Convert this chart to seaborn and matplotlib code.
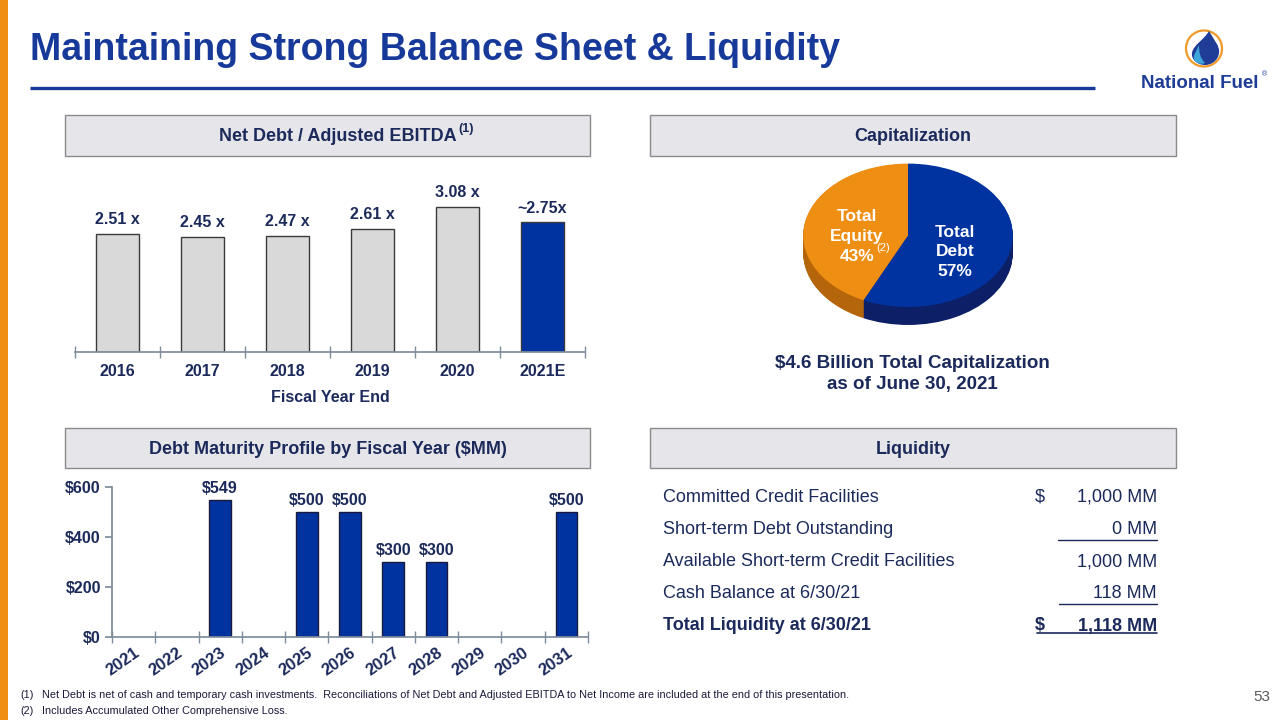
import numpy as np
import pandas as pd
import seaborn as sns
import matplotlib.pyplot as plt
from matplotlib.patches import Rectangle, Circle, PathPatch
from matplotlib.path import Path

# ---- data ----
ebitda_years = ["2016", "2017", "2018", "2019", "2020", "2021E"]
ebitda_ratio = [2.51, 2.45, 2.47, 2.61, 3.08, 2.75]
ebitda_labels = ["2.51 x", "2.45 x", "2.47 x", "2.61 x", "3.08 x", "~2.75x"]

maturity_years = ["2021", "2022", "2023", "2024", "2025", "2026", "2027", "2028", "2029", "2030", "2031"]
maturity_mm = [0, 0, 549, 0, 500, 500, 300, 300, 0, 0, 500]

cap_parts = ["Total Debt", "Total Equity"]
cap_pct = [57, 43]

liq_items = ["Committed Credit Facilities", "Short-term Debt Outstanding",
             "Available Short-term Credit Facilities", "Cash Balance at 6/30/21",
             "Total Liquidity at 6/30/21"]
liq_values = ["1,000 MM", "0 MM", "1,000 MM", "118 MM", "1,118 MM"]

footnotes = ["Net Debt is net of cash and temporary cash investments.  Reconciliations of Net Debt and Adjusted EBITDA to Net Income are included at the end of this presentation.",
             "Includes Accumulated Other Comprehensive Loss."]

# ---- style ----
sns.set_theme(style="white")
plt.rcParams["font.family"] = ["Liberation Sans", "DejaVu Sans"]

NAVY = "#1B2A5B"
BLUE = "#0033A0"
TITLE_BLUE = "#17399A"
ORANGE = "#EE8E12"
GREY_BAR = "#D9D9D9"
AXIS = "#7F8C9C"

W, H = 1280, 720
fig = plt.figure(figsize=(12.8, 7.2), dpi=100)


def px_axes(x0, y0, x1, y1):
    return fig.add_axes([x0 / W, 1 - y1 / H, (x1 - x0) / W, (y1 - y0) / H])


# overlay for decorations (pixel coords, y down)
ov = fig.add_axes([0, 0, 1, 1])
ov.set_xlim(0, W)
ov.set_ylim(H, 0)
ov.axis("off")

ov.add_patch(Rectangle((0, 0), 8, H, color=ORANGE, lw=0))
ov.text(30, 50, "Maintaining Strong Balance Sheet & Liquidity", fontsize=27, fontweight="bold",
        color=TITLE_BLUE, va="center", ha="left")
ov.plot([30, 1095], [88, 88], color=TITLE_BLUE, lw=2.4, solid_capstyle="butt")

# logo
ov.add_patch(Circle((1204, 48.5), 18, fill=False, ec="#EE9A2A", lw=1.6))
drop = Path([(1209, 31), (1214, 40), (1220, 46), (1219, 53), (1218, 61), (1211, 65), (1205, 65),
             (1197, 65), (1191, 59), (1192, 53), (1193, 45), (1204, 40), (1209, 31), (1209, 31)],
            [Path.MOVETO] + [Path.CURVE4] * 12 + [Path.CLOSEPOLY])
ov.add_patch(PathPatch(drop, fc="#1F3C96", ec="none"))
inner = Path([(1199, 45), (1196, 52), (1193, 55), (1194, 59), (1195, 63), (1201, 65), (1205, 63),
              (1200, 58), (1199, 52), (1199, 45), (1199, 45)],
             [Path.MOVETO] + [Path.CURVE4] * 9 + [Path.CLOSEPOLY])
ov.add_patch(PathPatch(inner, fc="#3FA6DC", ec="none"))
ov.text(1200, 83, "National Fuel", fontsize=13.5, fontweight="bold", color="#1F3C96",
        ha="center", va="center")
ov.text(1264, 75, "®", fontsize=5, color="#1F3C96", ha="center", va="center")

# header boxes
headers = [((65, 115, 590, 156), "Net Debt / Adjusted EBITDA"),
           ((650, 115, 1176, 156), "Capitalization"),
           ((65, 428, 590, 468), "Debt Maturity Profile by Fiscal Year ($MM)"),
           ((650, 428, 1176, 468), "Liquidity")]
for (x0, y0, x1, y1), txt in headers:
    ov.add_patch(Rectangle((x0, y0), x1 - x0, y1 - y0, fc="#E6E6EA", ec="#8A8A8A", lw=1))
    if txt.startswith("Net Debt"):
        ov.text(457, (y0 + y1) / 2 + 1, txt, fontsize=13, fontweight="bold", color=NAVY,
                ha="right", va="center")
        ov.text(458, 129, "(1)", fontsize=9, fontweight="bold", color=NAVY, ha="left", va="center")
    else:
        ov.text((x0 + x1) / 2, (y0 + y1) / 2 + 1, txt, fontsize=13, fontweight="bold", color=NAVY,
                ha="center", va="center")

# ---- chart 1: net debt / adjusted EBITDA ----
ax1 = px_axes(75, 182, 585, 352)
df1 = pd.DataFrame({"year": ebitda_years, "ratio": ebitda_ratio})
sns.barplot(data=df1, x="year", y="ratio", hue="year", legend=False, order=ebitda_years,
            palette=[GREY_BAR] * 5 + [BLUE], width=0.5, edgecolor="#3A3A3A", linewidth=1,
            saturation=1, ax=ax1)
ax1.set_ylim(0, 3.61)
ax1.set_xlim(-0.5, len(ebitda_years) - 0.5)
for i, (v, lab) in enumerate(zip(ebitda_ratio, ebitda_labels)):
    ax1.annotate(lab, (i, v), xytext=(0, 5), textcoords="offset points", ha="center", va="bottom",
                 fontsize=11.5, fontweight="bold", color=NAVY)
for s in ["left", "right", "top"]:
    ax1.spines[s].set_visible(False)
ax1.spines["bottom"].set_color(AXIS)
ax1.set_yticks([])
ax1.set_xlabel("")
ax1.set_ylabel("")
ax1.set_xticks(np.arange(-0.5, len(ebitda_years)), minor=True)
ax1.tick_params(axis="x", which="major", length=0, pad=9, labelsize=11.5, labelcolor=NAVY)
ax1.tick_params(axis="x", which="minor", length=8, direction="inout", color=AXIS, width=1, bottom=True)
for t in ax1.get_xticklabels():
    t.set_fontweight("bold")
ov.text(330, 397, "Fiscal Year End", fontsize=11.5, fontweight="bold", color=NAVY, ha="center", va="center")

# ---- chart 2: debt maturity ----
ax2 = px_axes(112, 487, 588, 637)
df2 = pd.DataFrame({"year": maturity_years, "mm": maturity_mm})
sns.barplot(data=df2, x="year", y="mm", order=maturity_years, color=BLUE, width=0.5,
            edgecolor="#1A1A40", linewidth=1, saturation=1, ax=ax2)
for p in ax2.patches:
    if p.get_height() == 0:
        p.set_visible(False)
ax2.set_ylim(0, 600)
ax2.set_xlim(-0.5, len(maturity_years) - 0.5)
ax2.set_yticks([0, 200, 400, 600])
ax2.set_yticklabels(["$0", "$200", "$400", "$600"])
for i, v in enumerate(maturity_mm):
    if v > 0:
        ax2.annotate(f"${v}", (i, v), xytext=(0, 3), textcoords="offset points", ha="center", va="bottom",
                     fontsize=11.5, fontweight="bold", color=NAVY)
for s in ["right", "top"]:
    ax2.spines[s].set_visible(False)
ax2.spines["bottom"].set_color(AXIS)
ax2.spines["left"].set_color(AXIS)
ax2.set_xlabel("")
ax2.set_ylabel("")
ax2.set_xticks(np.arange(-0.5, len(maturity_years)), minor=True)
ax2.tick_params(axis="x", which="major", length=0, pad=6, labelsize=12, labelcolor=NAVY)
ax2.tick_params(axis="x", which="minor", length=8, direction="inout", color=AXIS, width=1, bottom=True)
ax2.tick_params(axis="y", which="major", length=5, direction="out", color=AXIS, left=True, pad=3,
                labelsize=11.5, labelcolor=NAVY)
for t in ax2.get_xticklabels():
    t.set_fontweight("bold")
    t.set_rotation(35)
    t.set_ha("right")
    t.set_va("top")
    t.set_rotation_mode("anchor")
for t in ax2.get_yticklabels():
    t.set_fontweight("bold")

# ---- capitalization pie (3D look) ----
ax3 = px_axes(798, 155, 1018, 335)
pie_cols = [BLUE, ORANGE]
side_cols = ["#0D1F66", "#B5650A"]
depth = 0.25
for k in range(24, 0, -1):
    off = depth * k / 24
    ax3.pie(cap_pct, colors=side_cols, startangle=90, counterclock=False, center=(0, -off),
            wedgeprops=dict(linewidth=0))
ax3.pie(cap_pct, colors=pie_cols, startangle=90, counterclock=False,
        wedgeprops=dict(linewidth=0))
ax3.set_aspect("auto")
ax3.set_xlim(-1.05, 1.05)
ax3.set_ylim(-1.39, 1.12)
ax3.axis("off")
ax3.text(0.45, -0.23, f"Total\nDebt\n{cap_pct[0]}%", color="white", fontsize=12.5, fontweight="bold",
         ha="center", va="center", linespacing=1.35)
# equity label line by line so the superscript sits next to the percentage
for j, line in enumerate(["Total", "Equity", f"{cap_pct[1]}%"]):
    ax3.text(-0.49, 0.26 - 0.28 * j, line, color="white", fontsize=12.5, fontweight="bold",
             ha="center", va="center")
ax3.text(-0.30, -0.18, "(2)", fontsize=8, color="white", ha="left", va="center")

ov.text(912, 363, "$4.6 Billion Total Capitalization", fontsize=13.5, fontweight="bold", color=NAVY,
        ha="center", va="center")
ov.text(912, 385, "as of June 30, 2021", fontsize=13.5, fontweight="bold", color=NAVY,
        ha="center", va="center")

# ---- liquidity table ----
row_y = [497, 530, 562, 594, 626]
for i, (item, val) in enumerate(zip(liq_items, liq_values)):
    bold = i == len(liq_items) - 1
    fw = "bold" if bold else "normal"
    ov.text(663, row_y[i], item, fontsize=13, fontweight=fw, color=NAVY, ha="left", va="center")
    ov.text(1157, row_y[i], val, fontsize=13, fontweight=fw, color=NAVY, ha="right", va="center")
ov.text(1035, row_y[0], "$", fontsize=13, color=NAVY, ha="left", va="center")
ov.text(1035, row_y[4], "$", fontsize=13, fontweight="bold", color=NAVY, ha="left", va="center")
ov.plot([1058, 1157], [540, 540], color=NAVY, lw=1)
ov.plot([1059, 1157], [604, 604], color=NAVY, lw=1)
ov.plot([1037, 1157], [633, 633], color=NAVY, lw=1.2)

# ---- footnotes / page number ----
for i, fn in enumerate(footnotes):
    y = 695 + 16 * i
    ov.text(20, y, f"({i + 1})", fontsize=7.8, color="#1A1A3A", ha="left", va="center")
    ov.text(42, y, fn, fontsize=7.8, color="#1A1A3A", ha="left", va="center")
ov.text(1270, 697, "53", fontsize=11, color="#595959", ha="right", va="center")

fig.savefig("out.png", dpi=100)
